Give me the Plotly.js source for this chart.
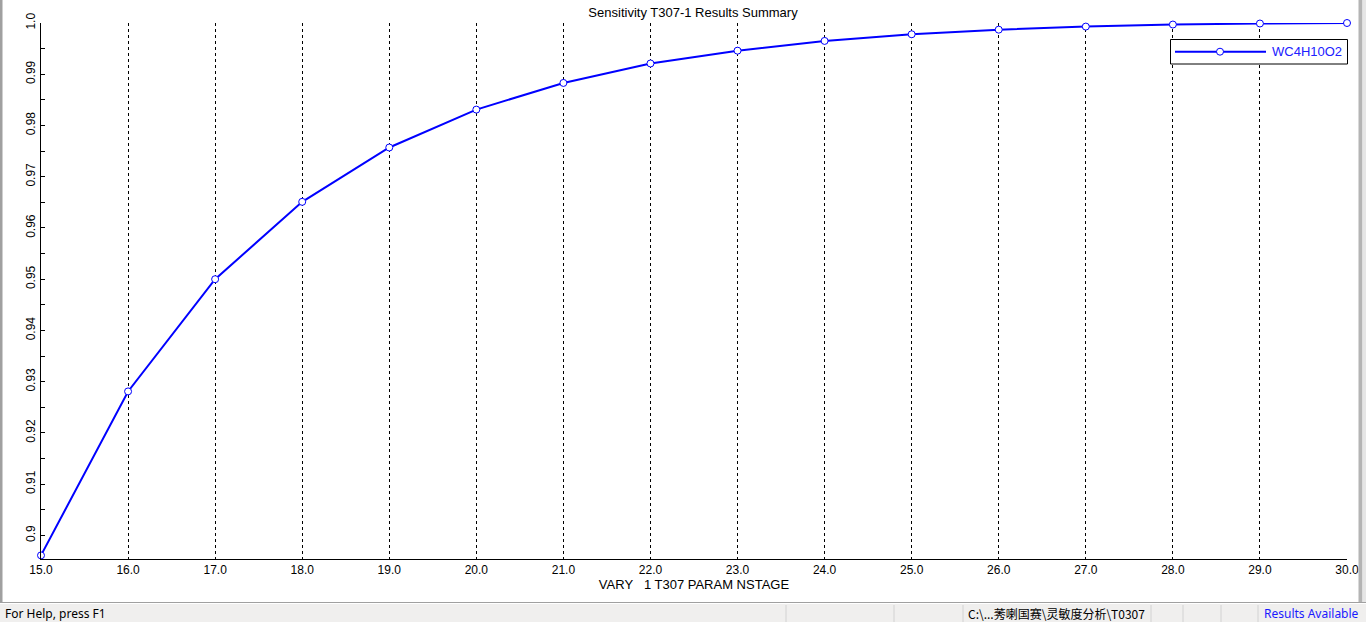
<!DOCTYPE html>
<html>
<head>
<meta charset="utf-8">
<script src="https://cdn.plot.ly/plotly-3.0.1.min.js"></script>
<style>
html,body{margin:0;padding:0;background:#fff;overflow:hidden;}
#chart{width:1366px;height:622px;}
</style>
</head>
<body>
<div id="chart"></div>
<script>
// ---- data ----
const nstage = [15, 16, 17, 18, 19, 20, 21, 22, 23, 24, 25, 26, 27, 28, 29, 30];
const wc4h10o2 = [0.8961, 0.9281, 0.9500, 0.9651, 0.9757, 0.9831, 0.9883, 0.9921, 0.9946, 0.9965, 0.9978, 0.9987, 0.9993, 0.9997, 0.9999, 1.0000];
const seriesName = "WC4H10O2";
const yTickVals = [0.90, 0.91, 0.92, 0.93, 0.94, 0.95, 0.96, 0.97, 0.98, 0.99, 1.00];
const yTickText = ["0.9", "0.91", "0.92", "0.93", "0.94", "0.95", "0.96", "0.97", "0.98", "0.99", "1.0"];
const chartTitle = "Sensitivity T307-1 Results Summary";
const xTitle = "VARY\u00a0\u00a0\u00a01 T307 PARAM NSTAGE";
const statusHelp = "For Help, press F1";
const statusPath = "C:\\...莠喇国赛\\灵敏度分析\\T0307";
const statusReady = "Results Available";

// ---- layout helpers (pixel -> paper) ----
const L = 41, R = 19, T = 23, B = 63, W = 1366, H = 622;
const PW = W - L - R, PH = H - T - B;
const PX = px => (px - L) / PW;
const PY = py => (H - B - py) / PH;
const FONT = "Liberation Sans, Arial, sans-serif";
const BLUE = "#0000ff";

const trace = {
  x: nstage,
  y: wc4h10o2,
  name: seriesName,
  type: "scatter",
  mode: "lines+markers",
  line: {color: BLUE, width: 2},
  marker: {symbol: "circle", size: 7, color: "#ffffff", line: {color: BLUE, width: 1}},
  cliponaxis: false,
  showlegend: false
};

const shapes = [
  // window borders
  {type: "rect", xref: "paper", yref: "paper", x0: PX(0), x1: PX(2.5), y0: PY(603), y1: PY(0), fillcolor: "#a0a0a0", line: {width: 0}, layer: "below"},
  {type: "rect", xref: "paper", yref: "paper", x0: PX(1358.5), x1: PX(1362.5), y0: PY(603), y1: PY(0), fillcolor: "#b4b4b4", line: {width: 0}},
  {type: "rect", xref: "paper", yref: "paper", x0: PX(1362.5), x1: PX(1366), y0: PY(603), y1: PY(0), fillcolor: "#e6e6e6", line: {width: 0}},
  // status bar
  {type: "rect", xref: "paper", yref: "paper", x0: PX(0), x1: PX(1366), y0: PY(623), y1: PY(603.5), fillcolor: "#f0efee", line: {width: 0}},
  {type: "line", xref: "paper", yref: "paper", x0: PX(0), x1: PX(1366), y0: PY(602.5), y1: PY(602.5), line: {color: "#a0a0a0", width: 1}},
  {type: "line", xref: "paper", yref: "paper", x0: PX(0), x1: PX(1366), y0: PY(603.5), y1: PY(603.5), line: {color: "#ffffff", width: 1}},
  // legend box
  {type: "rect", xref: "paper", yref: "paper", x0: PX(1170.5), x1: PX(1347.5), y0: PY(64), y1: PY(39.5), fillcolor: "#ffffff", line: {color: "#000000", width: 1}},
  {type: "line", xref: "paper", yref: "paper", x0: PX(1175), x1: PX(1266), y0: PY(51.7), y1: PY(51.7), line: {color: BLUE, width: 2}},
  {type: "circle", xref: "paper", yref: "paper", x0: PX(1216.5), x1: PX(1223.5), y0: PY(55.2), y1: PY(48.2), fillcolor: "#ffffff", line: {color: BLUE, width: 1}}
];
[786, 894, 963, 1151, 1183, 1221, 1258].forEach(sx => {
  shapes.push({type: "line", xref: "paper", yref: "paper", x0: PX(sx), x1: PX(sx), y0: PY(622), y1: PY(605), line: {color: "#d2d2d2", width: 1}});
});

const annotations = [
  {text: seriesName, xref: "paper", yref: "paper", x: PX(1270), y: PY(52), xanchor: "left", yanchor: "middle", showarrow: false, font: {family: FONT, size: 13, color: "#2020ff"}},
  {text: statusHelp, xref: "paper", yref: "paper", x: PX(3), y: PY(613.5), xanchor: "left", yanchor: "middle", showarrow: false, font: {family: "Noto Sans, DejaVu Sans, sans-serif", size: 12, color: "#000000"}},
  {text: statusPath, xref: "paper", yref: "paper", x: PX(966), y: PY(613.5), xanchor: "left", yanchor: "middle", showarrow: false, font: {family: "Noto Sans CJK SC, Noto Sans, sans-serif", size: 12, color: "#000000"}},
  {text: statusReady, xref: "paper", yref: "paper", x: PX(1262), y: PY(613.5), xanchor: "left", yanchor: "middle", showarrow: false, font: {family: "Noto Sans, DejaVu Sans, sans-serif", size: 12, color: "#1a1aff"}}
];

const layout = {
  width: W, height: H,
  margin: {l: L, r: R, t: T, b: B, pad: 0},
  paper_bgcolor: "#ffffff",
  plot_bgcolor: "#ffffff",
  font: {family: FONT, size: 12, color: "#000000"},
  showlegend: false,
  title: {text: chartTitle, x: PX(693), xref: "paper", xanchor: "center", y: 1 - 12 / H, yref: "container", yanchor: "middle", font: {family: FONT, size: 13, color: "#000000"}},
  xaxis: {
    range: [15, 30],
    dtick: 1, tick0: 15,
    tickformat: ".1f",
    showline: true, linecolor: "#000000", linewidth: 1,
    ticks: "",
    showgrid: true, gridcolor: "#000000", gridwidth: 1, griddash: "3px,3px",
    zeroline: false,
    tickfont: {family: FONT, size: 12, color: "#000000"},
    title: {text: xTitle, standoff: 3, font: {family: FONT, size: 13, color: "#000000"}},
    automargin: false,
    fixedrange: true
  },
  yaxis: {
    range: [1.0 - PH / 5124, 1.0],
    tickvals: yTickVals, ticktext: yTickText,
    tickangle: -90,
    showline: true, linecolor: "#000000", linewidth: 1,
    ticks: "inside", ticklen: 4, tickcolor: "#000000", tickwidth: 1,
    minor: {dtick: 0.005, tick0: 0.9, ticks: "inside", ticklen: 4, tickcolor: "#000000", tickwidth: 1, showgrid: false},
    showgrid: false, zeroline: false,
    tickfont: {family: FONT, size: 12, color: "#000000"},
    automargin: false,
    fixedrange: true
  },
  shapes: shapes,
  annotations: annotations
};

Plotly.newPlot("chart", [trace], layout, {displayModeBar: false, staticPlot: true});
</script>
</body>
</html>
